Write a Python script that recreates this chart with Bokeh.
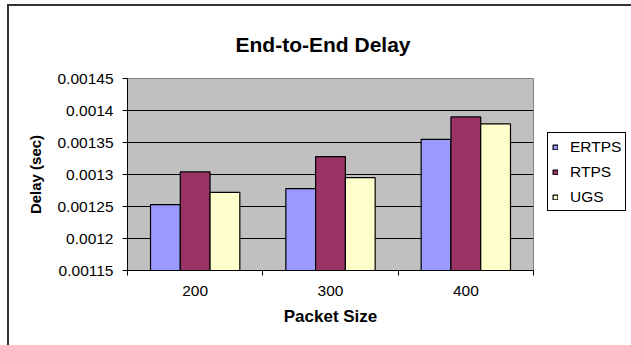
from bokeh.plotting import figure
from bokeh.models import (Range1d, FixedTicker, NumeralTickFormatter, Legend,
                          LegendItem, Title, ColumnDataSource)
from bokeh.embed import file_html
from bokeh.resources import INLINE

# ---- data ----
categories = ["200", "300", "400"]
series_names = ["ERTPS", "RTPS", "UGS"]
ertps = [0.001253, 0.001278, 0.001355]
rtps = [0.001304, 0.001328, 0.001390]
ugs = [0.001272, 0.001295, 0.001379]
y_ticks = [0.00115, 0.0012, 0.00125, 0.0013, 0.00135, 0.0014, 0.00145]
title_text = "End-to-End Delay"
x_title = "Packet Size"
y_title = "Delay (sec)"

colors = ["#9999FF", "#993366", "#FFFFCC"]
FONT = "Liberation Sans"

p = figure(frame_width=406, frame_height=192, output_backend="svg", toolbar_location=None,
           x_range=Range1d(0.5, len(categories) + 0.5),
           y_range=Range1d(y_ticks[0], y_ticks[-1]),
           min_border_left=118, min_border_right=100,
           min_border_top=72, min_border_bottom=77)
p.margin = (4, 0, 0, 7)
p.styles = {"border-left": "2px solid #333333", "border-top": "2px solid #333333"}
p.background_fill_color = "#C0C0C0"
p.border_fill_color = "white"
p.outline_line_color = "#808080"

bar_w = 0.22
offsets = [-bar_w, 0.0, bar_w]
items = []
for k, (name, vals) in enumerate(zip(series_names, [ertps, rtps, ugs])):
    src = ColumnDataSource(dict(x=[i + 1 + offsets[k] for i in range(len(categories))],
                                top=vals))
    r = p.vbar(x="x", top="top", bottom=y_ticks[0], width=bar_w, source=src,
               fill_color=colors[k], line_color="black", line_width=1.2)
    items.append(LegendItem(label=name, renderers=[r]))

# grids
p.xgrid.visible = False
p.ygrid.grid_line_color = "black"
p.ygrid.grid_line_width = 1

# y axis
ya = p.yaxis[0]
ya.ticker = FixedTicker(ticks=y_ticks)
ya.formatter = NumeralTickFormatter(format="0.[00000]")
ya.major_tick_in = 0
ya.major_tick_out = 5
ya.minor_tick_line_color = None
ya.major_label_standoff = 9
ya.major_label_text_font = FONT
ya.major_label_text_font_size = "15.5px"
ya.major_label_text_color = "black"
ya.axis_line_color = "black"
ya.axis_label = y_title
ya.axis_label_text_font = FONT
ya.axis_label_text_font_style = "bold"
ya.axis_label_text_font_size = "15px"
ya.axis_label_text_color = "black"
ya.axis_label_standoff = 10

# x axis
xa = p.xaxis[0]
xa.ticker = FixedTicker(ticks=[i + 1 for i in range(len(categories))],
                        minor_ticks=[i + 0.5 for i in range(len(categories) + 1)])
xa.major_label_overrides = {i + 1: c for i, c in enumerate(categories)}
xa.major_tick_line_color = None
xa.major_tick_in = 0
xa.major_tick_out = 0
xa.minor_tick_in = 0
xa.minor_tick_out = 5
xa.minor_tick_line_color = "black"
xa.major_label_standoff = 10
xa.major_label_text_font = FONT
xa.major_label_text_font_size = "15.5px"
xa.major_label_text_color = "black"
xa.axis_line_color = "black"
xa.axis_label = x_title
xa.axis_label_text_font = FONT
xa.axis_label_text_font_style = "bold"
xa.axis_label_text_font_size = "17px"
xa.axis_label_text_color = "black"
xa.axis_label_standoff = 8

# title
p.add_layout(Title(text=title_text, align="left", offset=108, standoff=41,
                   vertical_align="top",
                   text_font=FONT, text_font_style="bold",
                   text_font_size="21px", text_color="black"), "above")

legend = Legend(items=items, location=(14, 59), orientation="vertical",
                glyph_width=6, glyph_height=6, label_height=19, spacing=6,
                padding=4, margin=2, label_standoff=12,
                label_text_font=FONT, label_text_font_size="15.5px",
                label_text_color="black",
                border_line_color="black", border_line_width=1.5, border_line_alpha=1,
                background_fill_color="white", background_fill_alpha=1)
p.add_layout(legend, "right")

open("out.html", "w").write(file_html(p, INLINE))
